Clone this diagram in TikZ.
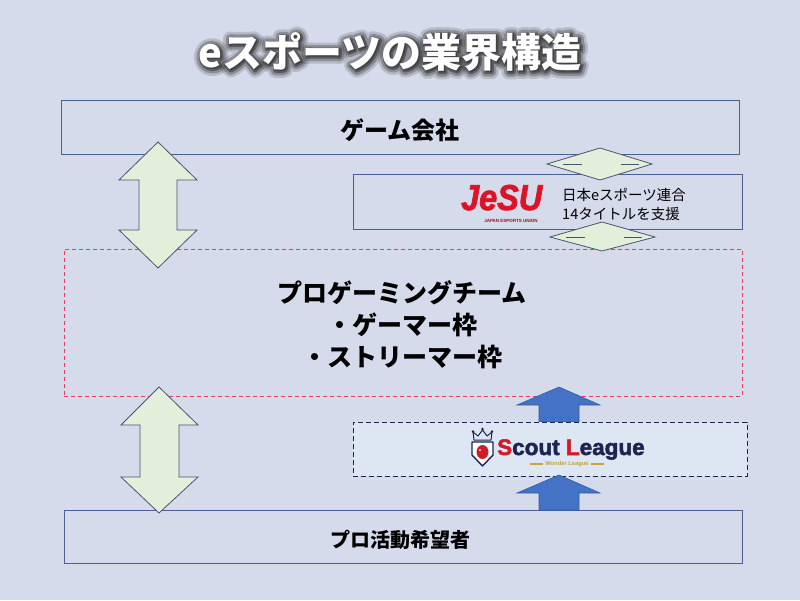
\documentclass[tikz,border=0pt]{standalone}
\usepackage{fontspec}
\setmainfont{Liberation Sans}
\newfontfamily\jp{Noto Sans CJK JP}
\newfontfamily\heavy[FakeBold=2.2]{Liberation Sans Bold}
\definecolor{bg}{RGB}{214,219,235}
\definecolor{boxline}{RGB}{74,96,144}
\definecolor{reddash}{RGB}{226,64,96}
\definecolor{garrowfill}{RGB}{226,239,218}
\definecolor{garrowline}{RGB}{70,85,110}
\definecolor{barrow}{RGB}{68,114,196}
\definecolor{barrowline}{RGB}{50,90,170}
\definecolor{scoutfill}{RGB}{221,231,244}
\definecolor{navy}{RGB}{28,36,80}
\definecolor{slred}{RGB}{208,28,40}
\definecolor{gold}{RGB}{200,160,64}
\definecolor{jesured}{RGB}{220,20,40}
\definecolor{shadowgray}{RGB}{60,60,60}
\tikzset{
  box/.style={draw=boxline, line width=0.8pt, inner sep=0pt},
  redbox/.style={draw=reddash, line width=0.8pt, dash pattern=on 4pt off 3pt, inner sep=0pt},
  scoutbox/.style={draw=navy, fill=scoutfill, line width=0.8pt, dash pattern=on 5pt off 3pt, inner sep=0pt},
  garrow/.style={draw=garrowline, fill=garrowfill, line width=0.8pt, line join=miter},
  barrowst/.style={draw=barrowline, fill=barrow, line width=0.6pt},
  titletext/.style={font=\jp\bfseries\fontsize{40}{44}\selectfont, inner sep=0pt},
  bigjp/.style={font=\jp\bfseries\fontsize{25}{32}\selectfont, align=center, inner sep=0pt},
  midjp/.style={font=\jp\bfseries\fontsize{20}{24}\selectfont, inner sep=0pt},
  smalljp/.style={font=\jp\fontsize{14.5}{18}\selectfont, align=left, inner sep=0pt},
}
\newcommand\strokedtext[2]{\special{pdf:literal 2 Tr #1 w 1 j}#2\special{pdf:literal 0 Tr}}
\begin{document}
\begin{tikzpicture}[x=1pt,y=-1pt]
\useasboundingbox (0,0) rectangle (800,600);
\fill[bg] (0,0) rectangle (800,600);

% title with glow shadow
\node[titletext, text=shadowgray, opacity=0.2] (titleshadow) at (391,53) {\strokedtext{14}{eスポーツの業界構造}};
\node[titletext, text=shadowgray, opacity=0.35] (titleshadow2) at (391,53) {\strokedtext{9}{eスポーツの業界構造}};
\node[titletext, text=shadowgray, opacity=0.6] (titleshadow3) at (391,53) {\strokedtext{4}{eスポーツの業界構造}};
\node[titletext, text=white] (title) at (390,52) {eスポーツの業界構造};

% boxes
\node[box, minimum width=678pt, minimum height=54pt] (game) at (400,127) {};
\node[bigjp, font=\jp\bfseries\fontsize{24}{28}\selectfont] (gametext) at (400,130) {ゲーム会社};

\node[box, minimum width=389pt, minimum height=55pt] (jesu) at (547.5,201.5) {};
\node[redbox, minimum width=678pt, minimum height=147pt] (team) at (403,322.5) {};
\node[bigjp] (teamtext) at (402,325) {プロゲーミングチーム\\・ゲーマー枠\\・ストリーマー枠};

% blue arrows (upper drawn below scout box)
\draw[barrowst] (559,387) -- (600,405) -- (579,405) -- (579,422) -- (539,422) -- (539,405) -- (517,405) -- cycle;
\node[scoutbox, minimum width=394pt, minimum height=54pt] (scout) at (550,449) {};
\node[box, minimum width=678pt, minimum height=53pt] (pro) at (403,536.5) {};
\node[midjp] (protext) at (400,540) {プロ活動希望者};
\draw[barrowst] (559,475) -- (600,493) -- (579,493) -- (579,510) -- (539,510) -- (539,493) -- (517,493) -- cycle;

% green double arrows
\draw[garrow] (158,142) -- (197,180) -- (177,180) -- (177,230) -- (197,230) -- (158,268) -- (119,230) -- (139,230) -- (139,180) -- (119,180) -- cycle;
\draw[garrow] (159,387) -- (198,425) -- (179,425) -- (179,477) -- (198,477) -- (159,513) -- (121,477) -- (140,477) -- (140,425) -- (121,425) -- cycle;

% horizontal double arrows (diamonds)
\draw[garrow] (547,164) -- (600,148) -- (652,164) -- (600,180) -- cycle;
\draw[garrowline, line width=0.8pt] (563,164) -- (582,164) (621,164) -- (639,164);
\draw[garrow] (550,237) -- (602,222) -- (655,237) -- (602,251) -- cycle;
\draw[garrowline, line width=0.8pt] (566,237) -- (585,237) (624,237) -- (642,237);

% JESU logo
\node[anchor=base west, inner sep=0pt, text=jesured, font=\heavy\itshape\fontsize{36}{38}\selectfont, xscale=0.9] (jesulogo) at (461,210) {JeSU};
\node[inner sep=0pt, text=jesured!70!black, font=\bfseries\fontsize{4.5}{5}\selectfont] (jesusub) at (511,221) {JAPAN ESPORTS UNION};
\node[smalljp, anchor=west] (jesutext1) at (562,195) {日本eスポーツ連合};
\node[smalljp, anchor=west] (jesutext2) at (562,214) {14タイトルを支援};

% Scout League logo
\draw[navy, line width=1pt, line join=round] (474,440) -- (473,432) -- (478,436) -- (482.5,430) -- (487,436) -- (492,432) -- (491,440) -- cycle;
\fill[navy] (473,431.5) circle (1.3) (482.5,429) circle (1.3) (492,431.5) circle (1.3);
\draw[navy, fill=white, line width=1.4pt, line join=round] (472,442) -- (493,442) -- (493,455) -- (482.5,466) -- (472,455) -- cycle;
\fill[slred] (482.5,452) ellipse (6 and 7);
\fill[white] (480,450) circle (1);
\node[anchor=base west, inner sep=0pt, font=\heavy\fontsize{22.5}{24}\selectfont] (sltext) at (497,455) {\textcolor{slred}{S}\textcolor{navy}{cout }\textcolor{slred}{L}\textcolor{navy}{eague}};
\node[inner sep=0pt, text=gold, font=\bfseries\fontsize{5.8}{7}\selectfont] (wl) at (567,464.5) {Wonder League};
\draw[gold, line width=1.2pt] (530,464) -- (543,464) (591,464) -- (604,464);
\end{tikzpicture}
\end{document}
